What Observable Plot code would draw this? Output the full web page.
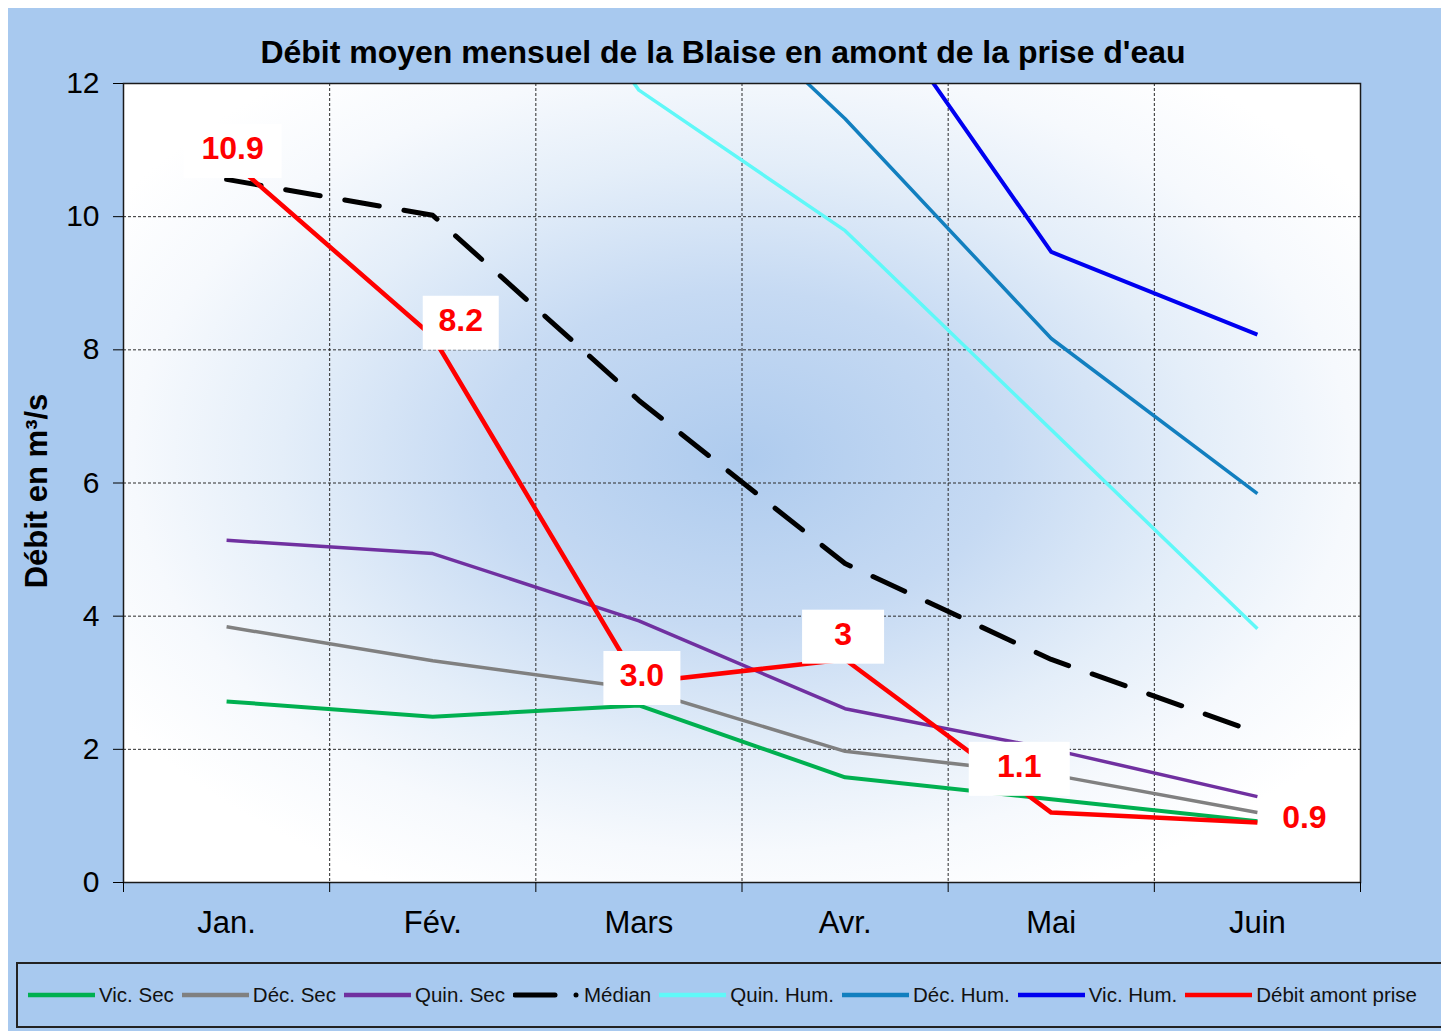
<!DOCTYPE html>
<html>
<head>
<meta charset="utf-8">
<script src="https://cdn.jsdelivr.net/npm/d3@7"></script>
<script src="https://cdn.jsdelivr.net/npm/@observablehq/plot@0.6"></script>
<style>
  html, body { margin:0; padding:0; background:#ffffff; overflow:hidden; }
  body { width:1441px; height:1031px; position:relative; font-family:"Liberation Sans", Arial, sans-serif; }
  #bg { position:absolute; left:8px; top:8px; width:1433px; height:1023px; background:#a8c9ef; }
  #chart { position:absolute; left:0; top:0; }
  #title { position:absolute; left:0; top:33px; width:1446px; text-align:center; font-size:32px; font-weight:bold; line-height:38px; color:#000; }
  #legend { position:absolute; left:16px; top:962px; width:1460px; height:62px; border:2px solid #222; box-sizing:content-box; display:flex; align-items:center; padding-left:10px; }
  .item { display:flex; align-items:center; margin-right:8px; white-space:nowrap; }
  .item svg { display:block; margin-right:4px; }
  .item span { font-size:20.5px; color:#111; }
</style>
</head>
<body>
<div id="bg"></div>
<div id="chart"></div>
<div id="title">Débit moyen mensuel de la Blaise en amont de la prise d'eau</div>
<div id="legend"></div>
<script>
// ---- data ----
const months = ["Jan.", "Fév.", "Mars", "Avr.", "Mai", "Juin"];
const yTicks = [0, 2, 4, 6, 8, 10, 12];
const vicSec  = [2.72, 2.49, 2.66, 1.58, 1.25, 0.92];
const decSec  = [3.84, 3.33, 2.91, 1.97, 1.62, 1.05];
const quinSec = [5.14, 4.94, 3.93, 2.61, 2.00, 1.29];
const median  = [10.56, 10.02, 7.24, 4.79, 3.35, 2.25];
const quinHum = [null, 16.2, 11.9, 9.79, 6.80, 3.81];
const decHum  = [null, null, 14.4, 11.47, 8.17, 5.84];
const vicHum  = [null, null, null, 13.9, 9.47, 8.23];
const debit   = [10.9, 8.2, 3.0, 3.35, 1.05, 0.9];
const debitLabels = ["10.9", "8.2", "3.0", "3", "1.1", "0.9"];

// ---- styles / layout ----
const series = [
  {name:"Vic. Sec",  values:vicSec,  stroke:"#00b050", width:4},
  {name:"Déc. Sec",  values:decSec,  stroke:"#808080", width:3.5},
  {name:"Quin. Sec", values:quinSec, stroke:"#7030a0", width:3.5},
  {name:"Médian",    values:median,  stroke:"#000000", width:5, dash:"35,25"},
  {name:"Quin. Hum.",values:quinHum, stroke:"#5ff8f8", width:3.5},
  {name:"Déc. Hum.", values:decHum,  stroke:"#127fbf", width:3.5},
  {name:"Vic. Hum.", values:vicHum,  stroke:"#0000f0", width:4},
  {name:"Débit amont prise", values:debit, stroke:"#ff0000", width:4.5}
];
const labelOffsets = [[6,-8],[28,-16],[3,-7],[-2,-25],[-32,-46],[47,-5]];
const boxWidths = [98, 76, 77, 82, 101, 80];

const rowsOf = vals => months.map((m, i) => ({i, v: vals[i]}));
const bounds = d3.range(months.length + 1).map(k => k - 0.5);
const inner = bounds.slice(1, -1);

const marks = [
  Plot.frame({fill:"url(#plotbg)"}),
  Plot.ruleY(yTicks.slice(1, -1), {stroke:"#2a2a2a", strokeWidth:1, strokeDasharray:"3,2"}),
  Plot.ruleX(inner, {stroke:"#2a2a2a", strokeWidth:1, strokeDasharray:"3,2"}),
  ...series.map(s => Plot.line(rowsOf(s.values), {
    x:"i", y:"v", stroke:s.stroke, strokeWidth:s.width,
    strokeDasharray:s.dash, strokeLinecap: s.dash ? "round" : "butt",
    strokeLinejoin:"round", clip:true
  })),
  Plot.frame({stroke:"#1a1a1a", strokeWidth:1.5}),
  Plot.axisY({ticks:yTicks, tickSize:10, tickPadding:14, fontSize:30, label:null, tickFormat:d => String(d)}),
  Plot.axisX({ticks:bounds, tickSize:10, tickFormat:() => "", label:null}),
  Plot.axisX({ticks:months.map((m, i) => i), tickSize:0, tickPadding:28, fontSize:31, label:null, tickFormat:i => months[i]}),
  Plot.text(["Débit en m³/s"], {frameAnchor:"left", textAnchor:"middle", dx:-86, dy:8, rotate:-90, fontSize:31, fontWeight:"bold", fill:"#000"}),
  ...debitLabels.map((t, i) => Plot.text([{i, v:debit[i], t}], {
    x:"i", y:"v", text:"t", dx:labelOffsets[i][0], dy:labelOffsets[i][1],
    fill:"#ff0000", fontSize:32, fontWeight:"bold", className:"vlab"
  }))
];

const chart = Plot.plot({
  width:1441, height:945,
  marginLeft:123, marginRight:81, marginTop:83, marginBottom:63,
  x:{domain:[-0.5, months.length - 0.5]},
  y:{domain:[0, 12]},
  style:{background:"transparent", fontFamily:"Liberation Sans, Arial, sans-serif", color:"#000", overflow:"visible"},
  marks
});

document.getElementById("chart").appendChild(chart);

// gradient fill for the plotting area
const svg = d3.select(chart);
const defs = svg.insert("defs", ":first-child");
const grad = defs.append("radialGradient").attr("id", "plotbg")
  .attr("cx", 0.5).attr("cy", 0.47).attr("r", 0.6);
[[0, "#aecbee"], [0.35, "#c6daf3"], [0.62, "#e4eef9"], [0.82, "#f6f9fd"], [1, "#ffffff"]]
  .forEach(([o, c]) => grad.append("stop").attr("offset", o).attr("stop-color", c));

// white boxes behind value labels
svg.selectAll("g.vlab text").each(function(d, k) {
  const bb = this.getBBox();
  const w = boxWidths[k], h = 54;
  const cx = bb.x + bb.width / 2, cy = bb.y + bb.height / 2 + 3;
  d3.select(this.parentNode).insert("rect", () => this)
    .attr("x", cx - w / 2).attr("y", cy - h / 2).attr("width", w).attr("height", h)
    .attr("fill", "#ffffff").attr("stroke", "none")
    .attr("transform", this.getAttribute("transform"));
});

// legend
const legend = d3.select("#legend");
series.forEach(s => {
  const it = legend.append("div").attr("class", "item");
  const sv = it.append("svg").attr("width", 67).attr("height", 10);
  if (s.dash) {
    sv.append("line").attr("x1", 2).attr("x2", 42).attr("y1", 5).attr("y2", 5)
      .attr("stroke", s.stroke).attr("stroke-width", 5).attr("stroke-linecap", "round");
    sv.append("circle").attr("cx", 63).attr("cy", 5).attr("r", 2.5).attr("fill", s.stroke);
  } else {
    sv.append("line").attr("x1", 0).attr("x2", 67).attr("y1", 5).attr("y2", 5)
      .attr("stroke", s.stroke).attr("stroke-width", 4.5);
  }
  it.append("span").text(s.name);
});
</script>
</body>
</html>
